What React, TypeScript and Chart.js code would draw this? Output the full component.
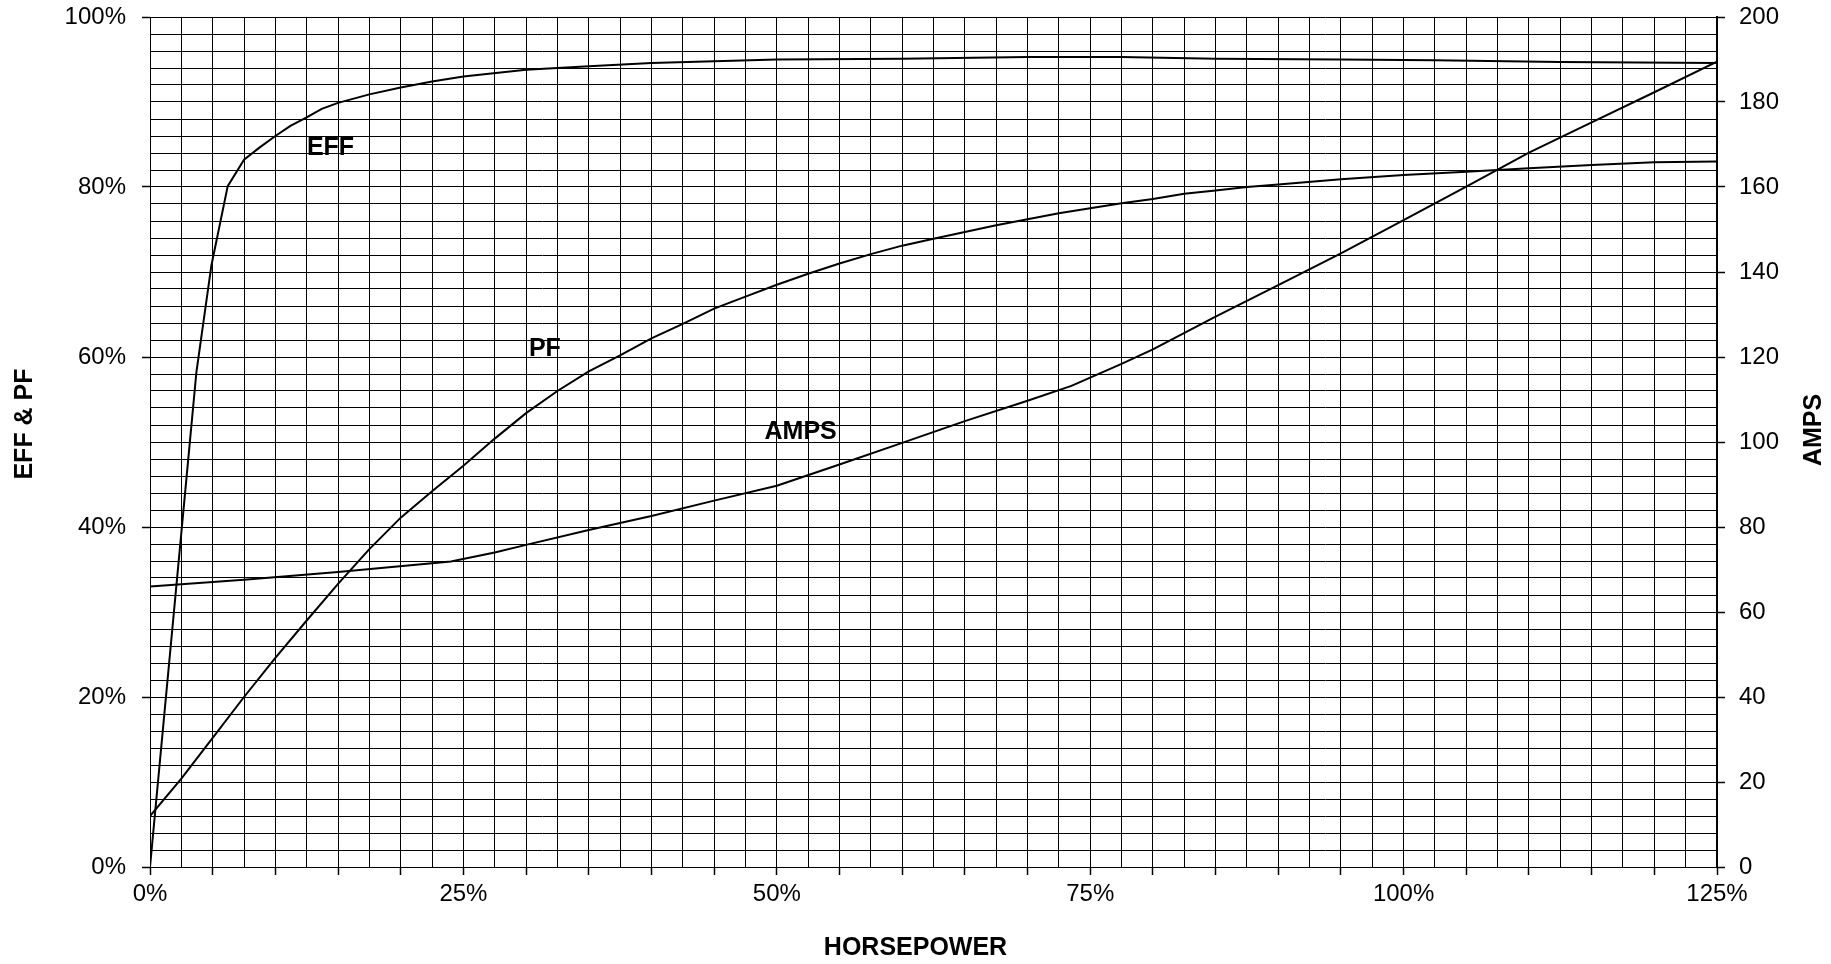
import { useEffect, useRef } from 'react';
import { Chart, registerables } from 'chart.js';

Chart.register(...registerables);

// ---- data ----
const effHp = [0, 3.7, 4.9, 6.2, 7.5, 8.7, 10, 11.2, 12.5, 13.7, 15, 17.5, 20, 22.5, 25, 30, 35, 40, 45, 50, 60, 70, 77.5, 85, 95, 102.5, 112.5, 125];
const effPct = [0, 58.2, 70.8, 80.1, 83.2, 84.6, 86.0, 87.2, 88.2, 89.2, 89.9, 90.9, 91.7, 92.4, 93.0, 93.8, 94.2, 94.6, 94.8, 95.0, 95.1, 95.3, 95.3, 95.1, 95.0, 94.9, 94.7, 94.6];

const pfHp = [0, 2.5, 5, 7.5, 10, 12.5, 15, 17.5, 20, 22.5, 25, 27.5, 30, 32.5, 35, 37.5, 40, 42.5, 45, 47.5, 50, 52.5, 55, 57.5, 60, 62.5, 65, 67.5, 70, 72.5, 75, 77.5, 80, 82.5, 85, 87.5, 90, 95, 100, 105, 110, 115, 120, 125];
const pfPct = [6, 10.4, 15.2, 20.0, 24.6, 29.0, 33.3, 37.4, 41.1, 44.2, 47.2, 50.4, 53.4, 56.0, 58.3, 60.2, 62.2, 63.9, 65.7, 67.1, 68.5, 69.8, 71.0, 72.1, 73.1, 73.9, 74.7, 75.5, 76.2, 76.9, 77.5, 78.1, 78.6, 79.2, 79.6, 80.0, 80.3, 80.9, 81.4, 81.8, 82.2, 82.6, 82.9, 83.0];

const ampsHp = [0, 7.5, 15, 24, 27.5, 30, 35, 40, 45, 50, 55, 60, 65, 70, 73.5, 77.5, 80, 85, 90, 95, 100, 105, 110, 115, 120, 125];
const ampsVal = [66, 67.6, 69.4, 71.9, 74.0, 75.8, 79.3, 82.6, 86.2, 89.7, 94.7, 99.8, 104.9, 109.7, 113.2, 118.4, 121.8, 129.5, 136.9, 144.4, 152.2, 160.1, 168.1, 175.2, 182.3, 189.5];

// in-plot curve labels (x in % HP, y on the EFF & PF scale)
const curveLabels = ['EFF', 'PF', 'AMPS'];
const curveLabelHp = [14.4, 31.5, 51.9];
const curveLabelPct = [84.6, 60.9, 51.2];

// axes
const xMin = 0, xMax = 125, xGridStep = 2.5, xTickMarkStep = 5, xLabelStep = 25;
const yMin = 0, yMax = 100, yGridStep = 2, yLabelStep = 20;
const y1Min = 0, y1Max = 200, y1LabelStep = 20;

const xTitle = 'HORSEPOWER';
const yTitle = 'EFF & PF';
const y1Title = 'AMPS';

const FONT = "'Liberation Sans', Arial, Helvetica, sans-serif";
const BLACK = '#000000';
const NONE = 'rgba(0,0,0,0)';

const isMult = (v: number, m: number) => Math.abs(v / m - Math.round(v / m)) < 1e-6;

const textPlugin = {
  id: 'textPlugin',
  afterDatasetsDraw(chart: any) {
    const { ctx, scales, chartArea } = chart;
    const x = scales.x;
    const y = scales.y;
    ctx.save();
    ctx.fillStyle = BLACK;
    ctx.font = `bold 25px ${FONT}`;
    ctx.textAlign = 'center';
    ctx.textBaseline = 'middle';
    curveLabels.forEach((t, i) => {
      ctx.fillText(t, x.getPixelForValue(curveLabelHp[i]), y.getPixelForValue(curveLabelPct[i]));
    });

    // axis titles
    const midY = (chartArea.top + chartArea.bottom) / 2 - 18;
    ctx.fillText(xTitle, chart.width / 2, chart.height - 16);

    ctx.save();
    ctx.translate(25, midY);
    ctx.rotate(-Math.PI / 2);
    ctx.fillText(yTitle, 0, 0);
    ctx.restore();

    ctx.save();
    ctx.translate(chart.width - 17, midY + 6);
    ctx.rotate(-Math.PI / 2);
    ctx.fillText(y1Title, 0, 0);
    ctx.restore();

    ctx.restore();
  },
};

export default function App() {
  const ref = useRef<HTMLCanvasElement | null>(null);

  useEffect(() => {
    document.body.style.margin = '0';
    document.body.style.overflow = 'hidden';
    const canvas = ref.current;
    if (!canvas) return;

    const line = (hp: number[], vals: number[], label: string, axis: string) => ({
      label,
      data: hp.map((h, i) => ({ x: h, y: vals[i] })),
      yAxisID: axis,
      borderColor: BLACK,
      backgroundColor: BLACK,
      borderWidth: 2,
      pointRadius: 0,
      tension: 0,
      fill: false,
    });

    const tickFont = { family: FONT, size: 24 };

    const chart = new Chart(canvas, {
      type: 'line',
      data: {
        datasets: [
          line(effHp, effPct, 'EFF', 'y'),
          line(pfHp, pfPct, 'PF', 'y'),
          line(ampsHp, ampsVal, 'AMPS', 'y1'),
        ] as any,
      },
      plugins: [textPlugin],
      options: {
        animation: false,
        responsive: false,
        devicePixelRatio: 1,
        layout: { padding: { top: 17, left: 0, right: 0, bottom: 0 } },
        plugins: {
          legend: { display: false },
          tooltip: { enabled: false },
          title: { display: false },
        },
        scales: {
          x: {
            type: 'linear',
            position: 'bottom',
            min: xMin,
            max: xMax,
            afterFit: (s: any) => {
              s.height = 97;
              s.paddingLeft = 0;
              s.paddingRight = 0;
            },
            ticks: {
              stepSize: xGridStep,
              autoSkip: false,
              maxRotation: 0,
              minRotation: 0,
              padding: 5,
              color: BLACK,
              font: tickFont,
              callback: (v: any) => (isMult(Number(v), xLabelStep) ? `${Math.round(Number(v))}%` : ''),
            },
            grid: {
              color: BLACK,
              lineWidth: 1,
              tickLength: 8,
              tickWidth: 1.5,
              tickColor: (c: any) => (c.tick && isMult(c.tick.value, xTickMarkStep) ? BLACK : NONE),
            },
            border: { display: true, color: BLACK, width: 1 },
          },
          y: {
            type: 'linear',
            position: 'left',
            min: yMin,
            max: yMax,
            afterFit: (s: any) => {
              s.width = 150;
              s.paddingTop = 0;
              s.paddingBottom = 0;
            },
            ticks: {
              stepSize: yGridStep,
              autoSkip: false,
              padding: 16,
              color: BLACK,
              font: tickFont,
              callback: (v: any) => (isMult(Number(v), yLabelStep) ? `${Math.round(Number(v))}%` : ''),
            },
            grid: {
              color: BLACK,
              lineWidth: 1,
              tickLength: 8,
              tickWidth: 1.5,
              tickColor: (c: any) => (c.tick && isMult(c.tick.value, yLabelStep) ? BLACK : NONE),
            },
            border: { display: true, color: BLACK, width: 1 },
          },
          y1: {
            type: 'linear',
            position: 'right',
            min: y1Min,
            max: y1Max,
            afterFit: (s: any) => {
              s.width = 114;
              s.paddingTop = 0;
              s.paddingBottom = 0;
            },
            ticks: {
              stepSize: y1LabelStep,
              autoSkip: false,
              padding: 14,
              color: BLACK,
              font: tickFont,
            },
            grid: {
              drawOnChartArea: false,
              color: BLACK,
              tickLength: 8,
              tickWidth: 1.5,
              tickColor: BLACK,
            },
            border: { display: true, color: BLACK, width: 2 },
          },
        },
      } as any,
    });

    return () => chart.destroy();
  }, []);

  return (
    <div style={{ width: 1831, height: 964, background: '#ffffff' }}>
      <canvas ref={ref} width={1831} height={964} style={{ display: 'block' }} />
    </div>
  );
}
